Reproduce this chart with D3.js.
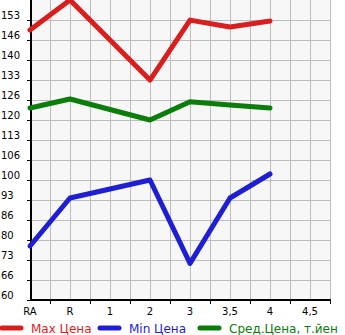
<!DOCTYPE html>
<html lang="ru">
<head>
  <meta charset="utf-8" />
  <title>Цены</title>
  <script src="https://cdnjs.cloudflare.com/ajax/libs/d3/7.8.5/d3.min.js"></script>
  <style>
    body { margin: 0; background: #fff; font-family: 'DejaVu Sans', sans-serif; }
    svg { display: block; }
  </style>
</head>
<body>
<svg id="chart" width="345" height="335"></svg>
<script>
// categories along x (the "1" and "4,5" slots have no data)
const categories = ["RA", "R", "1", "2", "3", "3,5", "4", "4,5"];
const maxPrice = [150, 160, null, 133.3, 153.3, 151, 153, null];
const minPrice = [78, 94, null, 100, 72.2, 94, 102, null];
const avgPrice = [124, 127, null, 120, 126.1, 125, 124, null];
const yTickLabels = ["60", "66", "73", "80", "86", "93", "100", "106", "113", "120", "126", "133", "140", "146", "153"];

const series = [
  {name: "Max Цена", values: maxPrice, color: "#d81e1e"},
  {name: "Min Цена", values: minPrice, color: "#1e1ed2"},
  {name: "Сред.Цена, т.йен", values: avgPrice, color: "#0a7d0a"}
];

const svg = d3.select("#chart");
const plotL = 31, plotR = 330, plotT = 0, plotB = 300;

const x = d3.scaleLinear().domain([0, categories.length - 0.5]).range([plotL - 1, plotR]);
const y = d3.scaleLinear().domain([60, 160]).range([plotB, plotT]);
const yStep = 100 / 15;

// plot background
svg.append("rect")
  .attr("x", plotL).attr("y", plotT)
  .attr("width", plotR - plotL).attr("height", plotB - plotT)
  .attr("fill", "#f7f7f7");

// grid
const grid = svg.append("g").attr("stroke", "#bdbdbd").attr("stroke-width", 1);
d3.range(1, 16).forEach(i => {
  const gx = Math.round(x(i / 2)) + 0.5;
  grid.append("line").attr("x1", gx).attr("x2", gx).attr("y1", plotT).attr("y2", plotB);
});
d3.range(0, 15).forEach(i => {
  const gy = Math.round(y(60 + i * yStep)) + 0.5;
  grid.append("line").attr("x1", plotL).attr("x2", plotR).attr("y1", gy).attr("y2", gy);
});

// y axis labels + ticks
yTickLabels.forEach((lab, i) => {
  const gy = Math.round(y(60 + i * yStep));
  svg.append("line").attr("x1", 27).attr("x2", plotL).attr("y1", gy + 0.5).attr("y2", gy + 0.5)
    .attr("stroke", "#000");
  svg.append("text").attr("x", 1).attr("y", gy - 1)
    .attr("font-size", 10).attr("fill", "#000").text(lab);
});

// x axis labels + ticks
categories.forEach((c, i) => {
  svg.append("text").attr("x", x(i)).attr("y", 315)
    .attr("text-anchor", "middle").attr("font-size", 10).attr("fill", "#000").text(c);
  const tx = Math.round(x(i + 0.5)) + 0.5;
  svg.append("line").attr("x1", tx).attr("x2", tx).attr("y1", plotB).attr("y2", plotB + 4)
    .attr("stroke", "#000");
});

// axes lines
svg.append("line").attr("x1", plotL).attr("x2", plotL).attr("y1", plotT).attr("y2", plotB + 1)
  .attr("stroke", "#000").attr("stroke-width", 2);
svg.append("line").attr("x1", plotL).attr("x2", plotR + 1).attr("y1", plotB).attr("y2", plotB)
  .attr("stroke", "#000").attr("stroke-width", 2);

// series lines
const line = d3.line().x(d => x(d.i)).y(d => y(d.v));
series.forEach(s => {
  const pts = s.values.map((v, i) => ({i, v})).filter(d => d.v != null);
  svg.append("path")
    .datum(pts)
    .attr("fill", "none")
    .attr("stroke", s.color)
    .attr("stroke-width", 5)
    .attr("stroke-linejoin", "round")
    .attr("stroke-linecap", "round")
    .attr("d", line);
});

// legend
const legendX = [0, 98, 198];
series.forEach((s, i) => {
  const g = svg.append("g").attr("transform", `translate(${legendX[i]},328)`);
  g.append("line").attr("x1", 2).attr("x2", 21).attr("y1", 0).attr("y2", 0)
    .attr("stroke", s.color).attr("stroke-width", 5).attr("stroke-linecap", "round");
  g.append("text").attr("x", 31).attr("y", 5).attr("font-size", 12)
    .attr("fill", s.color).text(s.name);
});
</script>
</body>
</html>
